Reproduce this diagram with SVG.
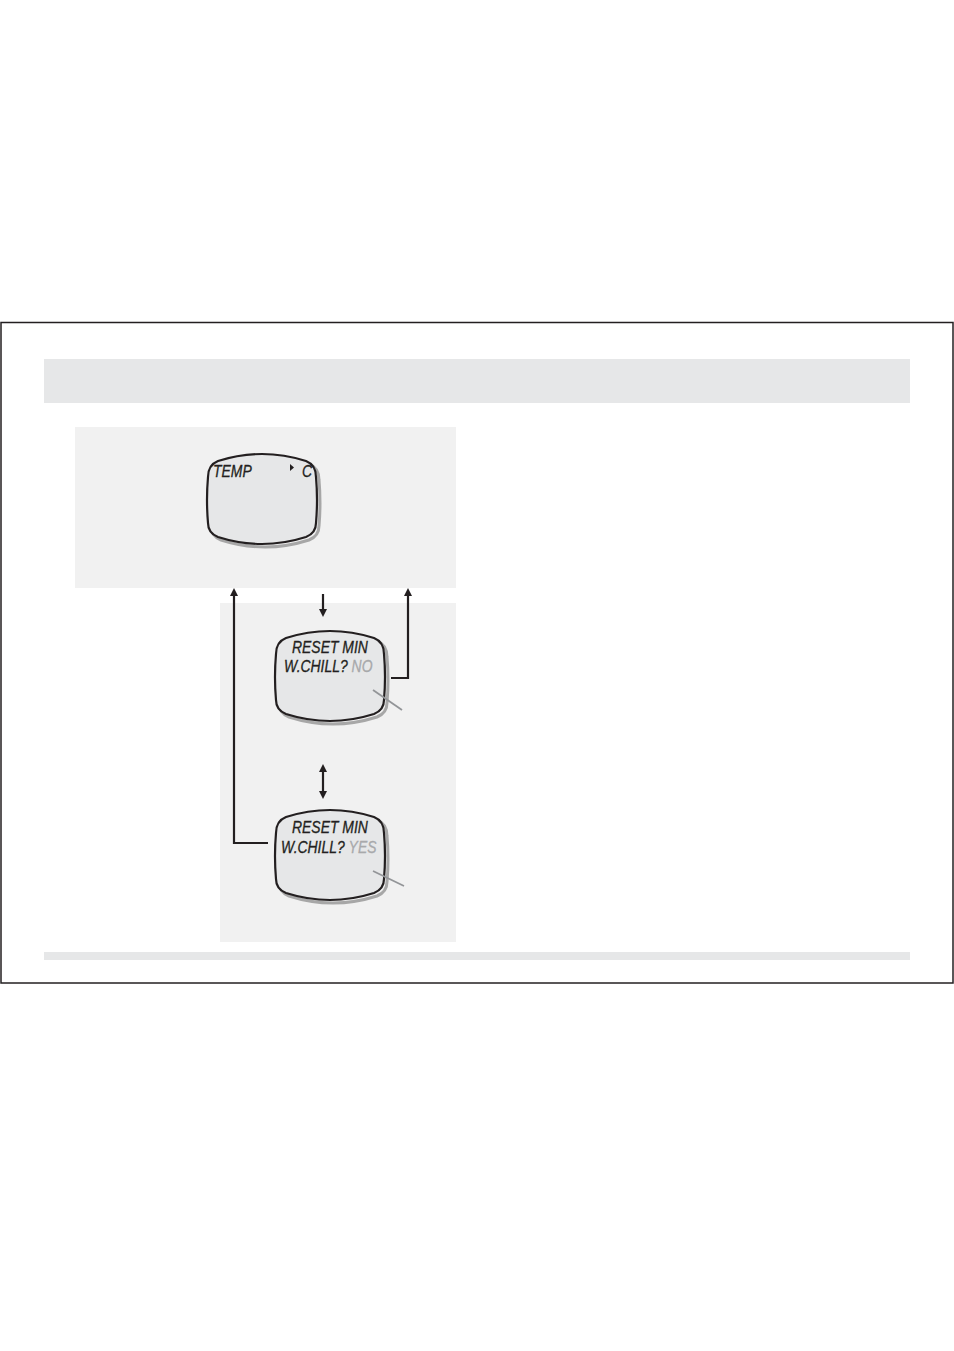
<svg xmlns="http://www.w3.org/2000/svg" width="954" height="1351" viewBox="0 0 954 1351">
<defs>
<style>
.panel{fill:#f1f1f1}
.band{fill:#e6e7e8}
.scr{fill:#e6e7e8;stroke:#231f20;stroke-width:2.2}
.shd{fill:none;stroke:#a7a7a7;stroke-width:3}
.t{font-family:"Liberation Sans",Arial,sans-serif;font-style:italic;font-size:17px;fill:#231f20;stroke:#231f20;stroke-width:0.3}
.g{fill:#a8a9ab;stroke:#a8a9ab}
.ln{fill:none;stroke:#231f20;stroke-width:2.2}
.ptr{stroke:#939598;stroke-width:1.8}
</style>
<marker id="ah" markerWidth="8" markerHeight="8" refX="4" refY="4" orient="auto-start-reverse" markerUnits="userSpaceOnUse" viewBox="0 0 8 8">
<path d="M0,0 L8,4 L0,8 Z" fill="#231f20"/>
</marker>
<path id="screen" d="M10,9 Q54,-5 98,9 Q108,13 108,25 Q110,48 108,71 Q108,81 98,85 Q54,99 10,85 Q0,81 0,71 Q-2,48 0,25 Q0,13 10,9 Z"/>
</defs>
<rect width="954" height="1351" fill="#fff"/>
<rect x="1" y="322.5" width="952" height="660.5" fill="none" stroke="#231f20" stroke-width="1.5"/>
<rect class="band" x="44" y="359" width="866" height="44"/>
<rect class="band" x="44" y="952" width="866" height="8"/>
<rect class="panel" x="75" y="427" width="381" height="161"/>
<rect class="panel" x="220" y="603" width="236" height="339"/>

<g id="connectors">
<line class="ln" x1="323" y1="594" x2="323" y2="613" marker-end="url(#ah)"/>
<line class="ln" x1="323" y1="768" x2="323" y2="795" marker-start="url(#ah)" marker-end="url(#ah)"/>
<polyline class="ln" points="391,678 408,678 408,592" marker-end="url(#ah)"/>
<polyline class="ln" points="268,843 234,843 234,592" marker-end="url(#ah)"/>
</g>

<g id="screen-temp">
<use href="#screen" class="shd" transform="translate(211,455)"/>
<use href="#screen" class="scr" transform="translate(208,452)"/>
<text class="t" transform="translate(213,477) scale(0.82,1)">TEMP</text>
<path d="M290,464 L294,467.5 L290,471 Z" fill="#231f20"/>
<text class="t" transform="translate(302,477) scale(0.82,1)">C</text>
</g>

<g id="screen-no">
<use href="#screen" class="shd" transform="translate(279,632)"/>
<use href="#screen" class="scr" transform="translate(276,629)"/>
<text class="t" transform="translate(292,653) scale(0.82,1)">RESET MIN</text>
<text class="t" transform="translate(284,672) scale(0.82,1)">W.CHILL? <tspan class="g">NO</tspan></text>
<line class="ptr" x1="373" y1="690" x2="402" y2="710"/>
</g>

<g id="screen-yes">
<use href="#screen" class="shd" transform="translate(279,811)"/>
<use href="#screen" class="scr" transform="translate(276,808)"/>
<text class="t" transform="translate(292,833) scale(0.82,1)">RESET MIN</text>
<text class="t" transform="translate(281,853) scale(0.82,1)">W.CHILL? <tspan class="g">YES</tspan></text>
<line class="ptr" x1="373" y1="871" x2="404" y2="886"/>
</g>
</svg>
